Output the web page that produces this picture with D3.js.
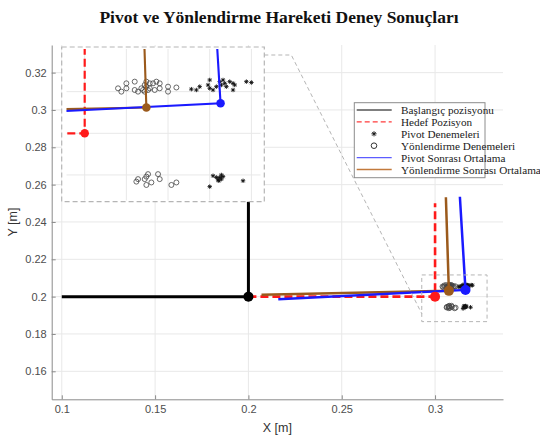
<!DOCTYPE html>
<html><head><meta charset="utf-8">
<script src="https://cdn.jsdelivr.net/npm/d3@7"></script>
<style>body{margin:0;background:#fff}svg{display:block}</style>
</head><body>
<svg id="c" width="540" height="437"></svg>
<script>
// ---------- data ----------
const titleText = "Pivot ve Yönlendirme Hareketi Deney Sonuçları";
const xTicks = [0.1, 0.15, 0.2, 0.25, 0.3];
const yTicks = [0.16, 0.18, 0.2, 0.22, 0.24, 0.26, 0.28, 0.3, 0.32];
const startPath = [[0.1, 0.2], [0.2, 0.2], [0.2, 0.251]];
const startPoint = [0.2, 0.2];
const targetPath = [[0.2, 0.2], [0.3, 0.2], [0.3, 0.25]];
const targetPoint = [0.3, 0.2];
const pivotMeanPath = [[0.216, 0.1986], [0.3163, 0.2036], [0.3133, 0.2535]];
const orientMeanPath = [[0.207, 0.2010], [0.3074, 0.2031], [0.3058, 0.2532]];
const pivotTrials = [
  [0.3128,0.2053],[0.3134,0.2052],[0.3138,0.2056],[0.3148,0.2058],[0.3150,0.2064],[0.3150,0.2054],
  [0.3154,0.2052],[0.3158,0.2056],[0.3162,0.2062],[0.3164,0.2058],[0.3166,0.2064],[0.3168,0.2060],
  [0.3170,0.2056],[0.3174,0.2062],[0.3178,0.2060],[0.3178,0.2052],[0.3180,0.2058],[0.3194,0.2062],
  [0.3200,0.2061],
  [0.3150,0.1936],[0.3154,0.1949],[0.3158,0.1947],[0.3160,0.1944],[0.3162,0.1947],[0.3164,0.1950],
  [0.3164,0.1945],[0.3161,0.1943],[0.3166,0.1948],[0.3190,0.1943]
];
const orientTrials = [
  [0.3040,0.2054],[0.3044,0.2050],[0.3050,0.2060],[0.3050,0.2054],[0.3060,0.2062],[0.3060,0.2052],
  [0.3064,0.2050],[0.3068,0.2054],[0.3070,0.2052],[0.3074,0.2062],[0.3074,0.2056],[0.3078,0.2060],
  [0.3078,0.2054],[0.3082,0.2060],[0.3084,0.2052],[0.3086,0.2062],[0.3090,0.2060],[0.3090,0.2054],
  [0.3100,0.2056],[0.3100,0.2050],[0.3110,0.2055],[0.3072,0.2058],[0.3076,0.2052],[0.3072,0.2050],
  [0.3062,0.1942],[0.3064,0.1945],[0.3072,0.1945],[0.3074,0.1938],[0.3076,0.1951],[0.3080,0.1941],
  [0.3088,0.1951],[0.3090,0.1945],[0.3104,0.1938],[0.3110,0.1941],[0.3074,0.1948]
];
const zoomRegion = {x: [0.29287, 0.32786], y: [0.18661, 0.21162]};
const insetXDomain = [0.29724, 0.32155];
const insetYDomain = [0.19179, 0.21036];
const insetXGrid = [0.3, 0.305, 0.31, 0.315, 0.32];
const insetYGrid = [0.195, 0.2, 0.205];
const legendLabels = ["Başlangıç pozisyonu", "Hedef Pozisyon", "Pivot Denemeleri",
  "Yönlendirme Denemeleri", "Pivot Sonrası Ortalama", "Yönlendirme Sonrası Ortalama"];

// ---------- style ----------
const C = {black:"#000", red:"#ff1a1a", blue:"#1a1aff", brown:"#9b5a1c", grid:"#e8e8e8", axis:"#8a8a8a", tick:"#4d4d4d"};
const svg = d3.select("#c");
const sans = "'Liberation Sans', Arial, sans-serif";
const serif = "'Liberation Serif', 'Times New Roman', serif";

const x = d3.scaleLinear().domain([0.0946, 0.3364]).range([51.7, 503]);
const y = d3.scaleLinear().domain([0.1450, 0.3348]).range([399.3, 45]);

// title
svg.append("text").attr("x", 279).attr("y", 23).attr("text-anchor", "middle")
  .attr("font-family", serif).attr("font-weight", "bold").attr("font-size", 17.5)
  .attr("fill", "#111").text(titleText);

// grid
const g = svg.append("g");
g.selectAll(".gx").data(xTicks).join("line")
  .attr("x1", d => x(d)).attr("x2", d => x(d)).attr("y1", y.range()[0]).attr("y2", y.range()[1])
  .attr("stroke", C.grid).attr("stroke-width", 1);
g.selectAll(".gy").data(yTicks).join("line")
  .attr("y1", d => y(d)).attr("y2", d => y(d)).attr("x1", x.range()[0]).attr("x2", x.range()[1])
  .attr("stroke", C.grid).attr("stroke-width", 1);

// axes
const fmt = d => String(+d.toFixed(3));
const xAxis = svg.append("g").attr("transform", `translate(0,${y.range()[0]})`)
  .call(d3.axisBottom(x).tickValues(xTicks).tickFormat(fmt).tickSizeInner(-4).tickSizeOuter(0).tickPadding(6));
const yAxis = svg.append("g").attr("transform", `translate(${x.range()[0]},0)`)
  .call(d3.axisLeft(y).tickValues(yTicks).tickFormat(fmt).tickSizeInner(-4).tickSizeOuter(0).tickPadding(5));
[xAxis, yAxis].forEach(a => {
  a.select(".domain").attr("stroke", C.axis);
  a.selectAll(".tick line").attr("stroke", C.axis);
  a.selectAll("text").attr("font-family", sans).attr("font-size", 11).attr("fill", C.tick);
});
svg.append("text").attr("x", 277.4).attr("y", 432).attr("text-anchor", "middle")
  .attr("font-family", sans).attr("font-size", 12.5).attr("fill", "#333").text("X [m]");
svg.append("text").attr("transform", "translate(17,222) rotate(-90)").attr("text-anchor", "middle")
  .attr("font-family", sans).attr("font-size", 12.5).attr("fill", "#333").text("Y [m]");

// marker helpers
function asterisk(sel, pts, sx, sy, s) {
  const p = d3.path();
  pts.forEach(([a, b]) => {
    const cx = sx(a), cy = sy(b), d = s * 0.707;
    p.moveTo(cx - s, cy); p.lineTo(cx + s, cy);
    p.moveTo(cx, cy - s); p.lineTo(cx, cy + s);
    p.moveTo(cx - d, cy - d); p.lineTo(cx + d, cy + d);
    p.moveTo(cx - d, cy + d); p.lineTo(cx + d, cy - d);
  });
  sel.append("path").attr("d", p.toString()).attr("stroke", "#111").attr("stroke-width", 0.9).attr("fill", "none");
}
function circles(sel, pts, sx, sy, r) {
  sel.selectAll(null).data(pts).join("circle")
    .attr("cx", d => sx(d[0])).attr("cy", d => sy(d[1])).attr("r", r)
    .attr("fill", "none").attr("stroke", "#444").attr("stroke-width", 0.8);
}
function drawScene(sel, sx, sy, k) {
  const line = d3.line().x(d => sx(d[0])).y(d => sy(d[1]));
  circles(sel, orientTrials, sx, sy, 2.5);
  asterisk(sel, pivotTrials, sx, sy, 2.2);
  sel.append("path").attr("d", line(startPath)).attr("fill", "none").attr("stroke", C.black).attr("stroke-width", 3 * k);
  sel.append("path").attr("d", line(targetPath)).attr("fill", "none").attr("stroke", C.red)
    .attr("stroke-width", 2.6 * k).attr("stroke-dasharray", "8,4");
  sel.append("path").attr("d", line(orientMeanPath)).attr("fill", "none").attr("stroke", C.brown).attr("stroke-width", 2.5 * k);
  sel.append("path").attr("d", line(pivotMeanPath)).attr("fill", "none").attr("stroke", C.blue).attr("stroke-width", 2.5 * k);
  const dots = [[startPoint, C.black], [targetPoint, C.red], [orientMeanPath[1], C.brown], [pivotMeanPath[1], C.blue]];
  sel.selectAll(null).data(dots).join("circle")
    .attr("cx", d => sx(d[0][0])).attr("cy", d => sy(d[0][1])).attr("r", 5 * k).attr("fill", d => d[1]);
}

// main scene
const main = svg.append("g");
drawScene(main, x, y, 1);

// zoom region box
const zx0 = x(zoomRegion.x[0]), zx1 = x(zoomRegion.x[1]), zy0 = y(zoomRegion.y[1]), zy1 = y(zoomRegion.y[0]);
svg.append("rect").attr("x", zx0).attr("y", zy0).attr("width", zx1 - zx0).attr("height", zy1 - zy0)
  .attr("fill", "none").attr("stroke", "#b5b5b5").attr("stroke-width", 1).attr("stroke-dasharray", "4,3");

// inset
const ib = {x0: 61.7, y0: 47, x1: 264.3, y1: 201.7};
const ix = d3.scaleLinear().domain(insetXDomain).range([ib.x0, ib.x1]);
const iy = d3.scaleLinear().domain(insetYDomain).range([ib.y1, ib.y0]);
svg.append("rect").attr("x", ib.x0).attr("y", ib.y0).attr("width", ib.x1 - ib.x0).attr("height", ib.y1 - ib.y0)
  .attr("fill", "#fff");
svg.append("defs").append("clipPath").attr("id", "ic").append("rect")
  .attr("x", 66.5).attr("y", 49).attr("width", 194).attr("height", 151.5);
const inset = svg.append("g").attr("clip-path", "url(#ic)");
inset.selectAll(null).data(insetXGrid).join("line")
  .attr("x1", d => ix(d)).attr("x2", d => ix(d)).attr("y1", ib.y0).attr("y2", ib.y1)
  .attr("stroke", C.grid);
inset.selectAll(null).data(insetYGrid).join("line")
  .attr("y1", d => iy(d)).attr("y2", d => iy(d)).attr("x1", ib.x0).attr("x2", ib.x1)
  .attr("stroke", C.grid);
drawScene(inset, ix, iy, 0.85);
svg.append("rect").attr("x", ib.x0).attr("y", ib.y0).attr("width", ib.x1 - ib.x0).attr("height", ib.y1 - ib.y0)
  .attr("fill", "none").attr("stroke", "#b5b5b5").attr("stroke-width", 1.2).attr("stroke-dasharray", "5,3");
// connector
svg.append("path")
  .attr("d", d3.line()([[ib.x1, ib.y0 + 8], [ib.x1 + 27, ib.y0 + 8], [zx0, zy1 - 8]]))
  .attr("fill", "none").attr("stroke", "#b5b5b5").attr("stroke-width", 1).attr("stroke-dasharray", "4,3");

// legend
const lg = svg.append("g");
lg.append("rect").attr("x", 354.3).attr("y", 102.7).attr("width", 130.7).attr("height", 75)
  .attr("fill", "#fff").attr("stroke", "#8c8c8c").attr("stroke-width", 1);
const legendStyles = [
  {type: "line", color: "#555", dash: null},
  {type: "line", color: "#ff3b3b", dash: "5,3"},
  {type: "star"},
  {type: "circle"},
  {type: "line", color: "#5c5cff", dash: null},
  {type: "line", color: "#c27a3c", dash: null}
];
legendLabels.forEach((lab, i) => {
  const cy = 110 + i * 11.9;
  const st = legendStyles[i];
  if (st.type === "line") {
    lg.append("line").attr("x1", 356.7).attr("x2", 391.7).attr("y1", cy).attr("y2", cy)
      .attr("stroke", st.color).attr("stroke-width", 1.3).attr("stroke-dasharray", st.dash);
  } else if (st.type === "star") {
    asterisk(lg, [[374, cy]], v => v, v => v, 2.6);
  } else {
    lg.append("circle").attr("cx", 374).attr("cy", cy).attr("r", 2.8).attr("fill", "none").attr("stroke", "#333").attr("stroke-width", 1);
  }
  lg.append("text").attr("x", 401).attr("y", cy + 4).attr("font-family", serif).attr("font-size", 11.2)
    .attr("fill", "#1a1a1a").text(lab);
});
</script>
</body></html>
